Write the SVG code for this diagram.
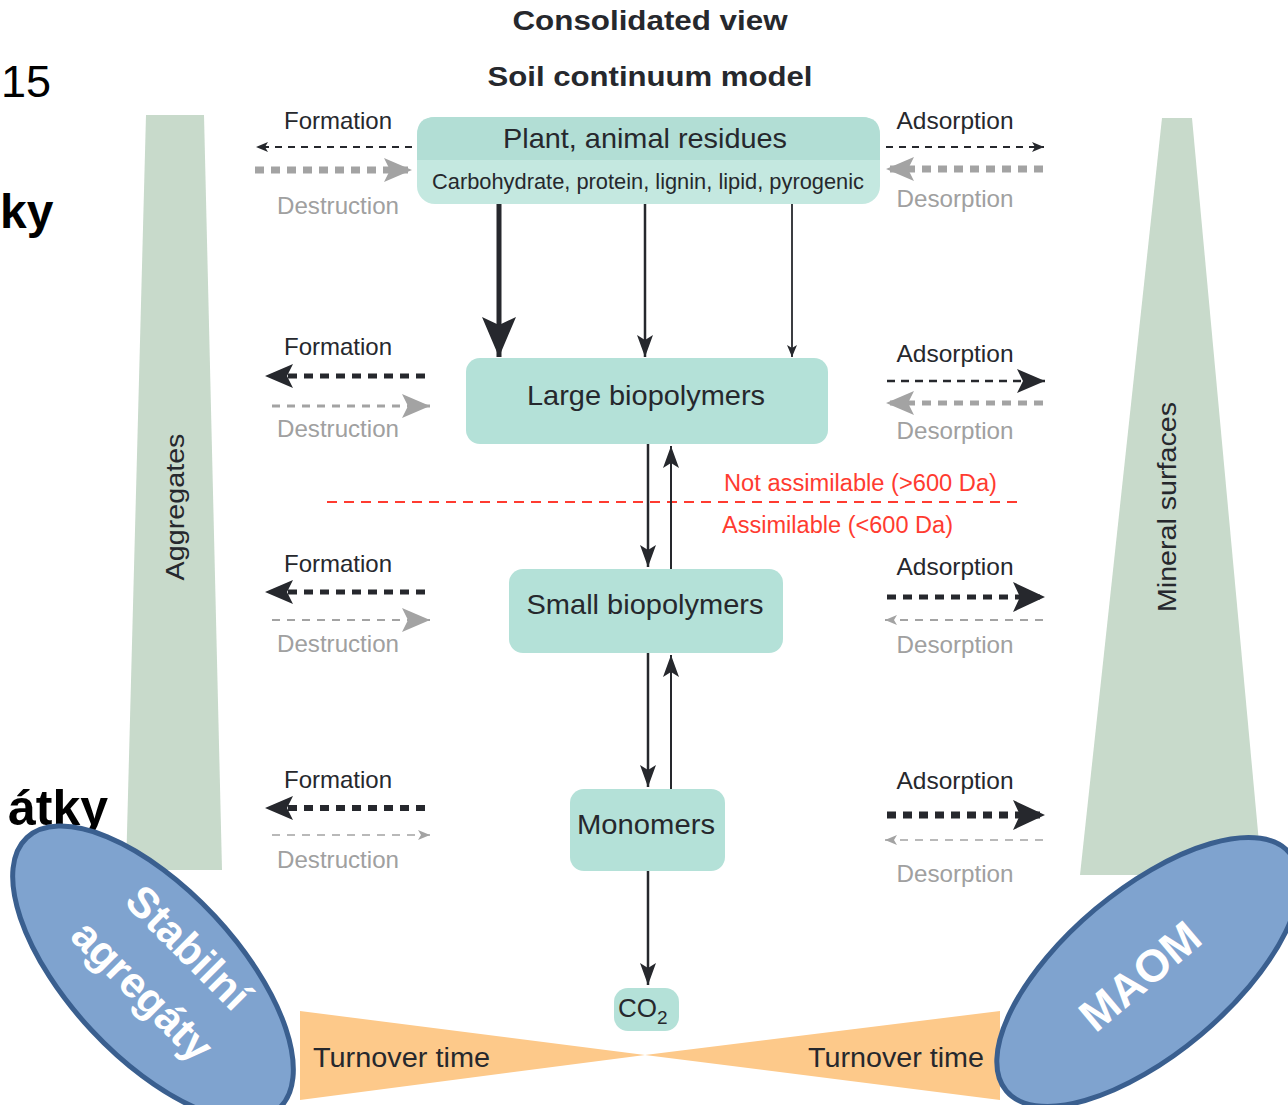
<svg xmlns="http://www.w3.org/2000/svg" width="1288" height="1105" viewBox="0 0 1288 1105">
<style>
  text { font-family: "Liberation Sans", Arial, sans-serif; }
  .dk { fill: #26282d; }
  .gr { fill: #a3a3a3; }
  .lbl { font-size: 24px; fill: #26282d; }
  .glbl { font-size: 24px; fill: #a0a0a0; }
  .box { fill: #b4e1d8; }
  .bt { font-size: 28px; fill: #26282d; text-anchor: middle; }
  .dl { stroke: #26282d; fill: none; }
  .gl { stroke: #a3a3a3; fill: none; }
  .red { font-size: 23px; fill: #ff3b30; }
  .white { fill: #ffffff; font-weight: bold; text-anchor: middle; }
</style>
<defs>
  <marker id="dS" viewBox="0 0 12 10" refX="12" refY="5" markerWidth="12" markerHeight="10" markerUnits="userSpaceOnUse" orient="auto"><path d="M0,0 L12,5 L0,10 L3,5 z" class="dk"/></marker>
  <marker id="dM" viewBox="0 0 22 16" refX="22" refY="8" markerWidth="22" markerHeight="16" markerUnits="userSpaceOnUse" orient="auto"><path d="M0,0 L22,8 L0,16 L5,8 z" class="dk"/></marker>
  <marker id="dL" viewBox="0 0 28 24" refX="28" refY="12" markerWidth="28" markerHeight="24" markerUnits="userSpaceOnUse" orient="auto"><path d="M0,0 L28,12 L0,24 L6,12 z" class="dk"/></marker>
  <marker id="dXL" viewBox="0 0 32 30" refX="32" refY="15" markerWidth="32" markerHeight="30" markerUnits="userSpaceOnUse" orient="auto"><path d="M0,0 L32,15 L0,30 L7,15 z" class="dk"/></marker>
  <marker id="dBig" viewBox="0 0 40 34" refX="40" refY="17" markerWidth="40" markerHeight="34" markerUnits="userSpaceOnUse" orient="auto"><path d="M0,0 L40,17 L0,34 L8,17 z" class="dk"/></marker>
  <marker id="gS" viewBox="0 0 12 10" refX="12" refY="5" markerWidth="12" markerHeight="10" markerUnits="userSpaceOnUse" orient="auto"><path d="M0,0 L12,5 L0,10 L3,5 z" class="gr"/></marker>
  <marker id="gL" viewBox="0 0 28 24" refX="28" refY="12" markerWidth="28" markerHeight="24" markerUnits="userSpaceOnUse" orient="auto"><path d="M0,0 L28,12 L0,24 L6,12 z" class="gr"/></marker>
</defs>

<!-- slide fragments -->
<text x="1" y="97" font-size="45">15</text>
<text x="0" y="228" font-size="48" font-weight="bold">ky</text>
<text x="108" y="825" font-size="50" font-weight="bold" text-anchor="end">átky</text>

<!-- titles -->
<text x="650" y="30" font-size="28" font-weight="bold" text-anchor="middle" fill="#26282d" textLength="275" lengthAdjust="spacingAndGlyphs">Consolidated view</text>
<text x="650" y="86" font-size="28" font-weight="bold" text-anchor="middle" fill="#26282d" textLength="325" lengthAdjust="spacingAndGlyphs">Soil continuum model</text>

<!-- side bars -->
<g id="aggregates">
  <polygon points="146,115 204,115 222,870 126,870" fill="#c8dacb"/>
  <text transform="translate(184,507) rotate(-90)" font-size="25" text-anchor="middle" fill="#26282d" textLength="147" lengthAdjust="spacingAndGlyphs">Aggregates</text>
</g>
<g id="mineral-surfaces">
  <polygon points="1162,118 1192,118 1262,875 1080,875" fill="#c8dacb"/>
  <text transform="translate(1176,507) rotate(-90)" font-size="25" text-anchor="middle" fill="#26282d" textLength="210" lengthAdjust="spacingAndGlyphs">Mineral surfaces</text>
</g>

<!-- turnover bowtie -->
<g id="turnover">
  <polygon points="300,1011 300,1100 645,1055" fill="#fdc98a"/>
  <polygon points="1000,1011 1000,1100 645,1055" fill="#fdc98a"/>
  <text x="313" y="1067" font-size="27" fill="#26282d" textLength="177" lengthAdjust="spacingAndGlyphs">Turnover time</text>
  <text x="808" y="1067" font-size="27" fill="#26282d" textLength="176" lengthAdjust="spacingAndGlyphs">Turnover time</text>
</g>

<!-- nodes -->
<g id="residues">
  <rect x="417" y="117" width="463" height="87" rx="18" fill="#c4e8e0"/>
  <path d="M417,160 V135 Q417,117 435,117 H862 Q880,117 880,135 V160 Z" fill="#b2ded5"/>
  <text x="645" y="148" class="bt" textLength="284" lengthAdjust="spacingAndGlyphs">Plant, animal residues</text>
  <text x="648" y="189" font-size="22" fill="#26282d" text-anchor="middle" textLength="432" lengthAdjust="spacingAndGlyphs">Carbohydrate, protein, lignin, lipid, pyrogenic</text>
</g>
<g id="large-biopolymers">
  <rect x="466" y="358" width="362" height="86" rx="14" class="box"/>
  <text x="646" y="405" class="bt" textLength="238" lengthAdjust="spacingAndGlyphs">Large biopolymers</text>
</g>
<g id="small-biopolymers">
  <rect x="509" y="569" width="274" height="84" rx="14" class="box"/>
  <text x="645" y="614" class="bt" textLength="237" lengthAdjust="spacingAndGlyphs">Small biopolymers</text>
</g>
<g id="monomers">
  <rect x="570" y="789" width="155" height="82" rx="14" class="box"/>
  <text x="646" y="834" class="bt" textLength="138" lengthAdjust="spacingAndGlyphs">Monomers</text>
</g>
<g id="co2">
  <rect x="614" y="988" width="65" height="43" rx="14" class="box"/>
  <text x="618" y="1017" font-size="26" fill="#26282d">CO<tspan font-size="19" dy="7">2</tspan></text>
</g>

<!-- assimilable threshold -->
<g id="threshold">
  <line x1="327" y1="502" x2="1022" y2="502" stroke="#ff3b30" stroke-width="2" stroke-dasharray="10 7"/>
  <text x="724" y="491" class="red" textLength="273" lengthAdjust="spacingAndGlyphs">Not assimilable (&gt;600 Da)</text>
  <text x="722" y="533" class="red" textLength="231" lengthAdjust="spacingAndGlyphs">Assimilable (&lt;600 Da)</text>
</g>

<!-- side labels -->
<g id="side-labels">
  <text x="338" y="129" class="lbl" text-anchor="middle" textLength="108" lengthAdjust="spacingAndGlyphs">Formation</text>
  <text x="338" y="214" class="glbl" text-anchor="middle" textLength="122" lengthAdjust="spacingAndGlyphs">Destruction</text>
  <text x="955" y="129" class="lbl" text-anchor="middle" textLength="117" lengthAdjust="spacingAndGlyphs">Adsorption</text>
  <text x="955" y="207" class="glbl" text-anchor="middle" textLength="117" lengthAdjust="spacingAndGlyphs">Desorption</text>

  <text x="338" y="355" class="lbl" text-anchor="middle" textLength="108" lengthAdjust="spacingAndGlyphs">Formation</text>
  <text x="338" y="437" class="glbl" text-anchor="middle" textLength="122" lengthAdjust="spacingAndGlyphs">Destruction</text>
  <text x="955" y="362" class="lbl" text-anchor="middle" textLength="117" lengthAdjust="spacingAndGlyphs">Adsorption</text>
  <text x="955" y="439" class="glbl" text-anchor="middle" textLength="117" lengthAdjust="spacingAndGlyphs">Desorption</text>

  <text x="338" y="572" class="lbl" text-anchor="middle" textLength="108" lengthAdjust="spacingAndGlyphs">Formation</text>
  <text x="338" y="652" class="glbl" text-anchor="middle" textLength="122" lengthAdjust="spacingAndGlyphs">Destruction</text>
  <text x="955" y="575" class="lbl" text-anchor="middle" textLength="117" lengthAdjust="spacingAndGlyphs">Adsorption</text>
  <text x="955" y="653" class="glbl" text-anchor="middle" textLength="117" lengthAdjust="spacingAndGlyphs">Desorption</text>

  <text x="338" y="788" class="lbl" text-anchor="middle" textLength="108" lengthAdjust="spacingAndGlyphs">Formation</text>
  <text x="338" y="868" class="glbl" text-anchor="middle" textLength="122" lengthAdjust="spacingAndGlyphs">Destruction</text>
  <text x="955" y="789" class="lbl" text-anchor="middle" textLength="117" lengthAdjust="spacingAndGlyphs">Adsorption</text>
  <text x="955" y="882" class="glbl" text-anchor="middle" textLength="117" lengthAdjust="spacingAndGlyphs">Desorption</text>
</g>

<!-- connectors -->
<g id="connectors">
  <!-- vertical flows -->
  <line x1="499" y1="204" x2="499" y2="357" class="dl" stroke-width="5" marker-end="url(#dBig)"/>
  <line x1="645" y1="204" x2="645" y2="357" class="dl" stroke-width="2.5" marker-end="url(#dM)"/>
  <line x1="792" y1="204" x2="792" y2="357" class="dl" stroke-width="1.8" marker-end="url(#dS)"/>
  <line x1="648" y1="444" x2="648" y2="567" class="dl" stroke-width="2.5" marker-end="url(#dM)"/>
  <line x1="671" y1="569" x2="671" y2="446" class="dl" stroke-width="2" marker-end="url(#dM)"/>
  <line x1="648" y1="653" x2="648" y2="787" class="dl" stroke-width="2.5" marker-end="url(#dM)"/>
  <line x1="671" y1="789" x2="671" y2="655" class="dl" stroke-width="2" marker-end="url(#dM)"/>
  <line x1="648" y1="871" x2="648" y2="985" class="dl" stroke-width="2.5" marker-end="url(#dM)"/>

  <!-- row 1 -->
  <line x1="412" y1="147" x2="256" y2="147" class="dl" stroke-width="2" stroke-dasharray="7 6" marker-end="url(#dS)"/>
  <line x1="255" y1="170" x2="412" y2="170" class="gl" stroke-width="7" stroke-dasharray="9 7" marker-end="url(#gL)"/>
  <line x1="886" y1="147" x2="1044" y2="147" class="dl" stroke-width="2" stroke-dasharray="7 6" marker-end="url(#dS)"/>
  <line x1="1043" y1="169" x2="886" y2="169" class="gl" stroke-width="7" stroke-dasharray="9 7" marker-end="url(#gL)"/>

  <!-- row 2 -->
  <line x1="425" y1="376" x2="265" y2="376" class="dl" stroke-width="5" stroke-dasharray="9 7" marker-end="url(#dL)"/>
  <line x1="272" y1="406" x2="430" y2="406" class="gl" stroke-width="3" stroke-dasharray="8 7" marker-end="url(#gL)"/>
  <line x1="887" y1="381" x2="1045" y2="381" class="dl" stroke-width="2.5" stroke-dasharray="8 6" marker-end="url(#dL)"/>
  <line x1="1043" y1="403" x2="886" y2="403" class="gl" stroke-width="5" stroke-dasharray="9 7" marker-end="url(#gL)"/>

  <!-- row 3 -->
  <line x1="425" y1="592" x2="265" y2="592" class="dl" stroke-width="5" stroke-dasharray="9 7" marker-end="url(#dL)"/>
  <line x1="272" y1="620" x2="430" y2="620" class="gl" stroke-width="2" stroke-dasharray="8 7" marker-end="url(#gL)"/>
  <line x1="887" y1="597" x2="1045" y2="597" class="dl" stroke-width="5" stroke-dasharray="9 7" marker-end="url(#dXL)"/>
  <line x1="1043" y1="620" x2="885" y2="620" class="gl" stroke-width="2" stroke-dasharray="8 7" marker-end="url(#gS)"/>

  <!-- row 4 -->
  <line x1="425" y1="808" x2="265" y2="808" class="dl" stroke-width="6" stroke-dasharray="9 7" marker-end="url(#dL)"/>
  <line x1="272" y1="835" x2="430" y2="835" class="gl" stroke-width="1.5" stroke-dasharray="8 7" marker-end="url(#gS)"/>
  <line x1="887" y1="815" x2="1045" y2="815" class="dl" stroke-width="7" stroke-dasharray="9 7" marker-end="url(#dXL)"/>
  <line x1="1043" y1="840" x2="885" y2="840" class="gl" stroke-width="1.5" stroke-dasharray="8 7" marker-end="url(#gS)"/>
</g>

<!-- callout ellipses -->
<g id="stabilni-agregaty">
  <ellipse cx="153" cy="973" rx="185" ry="84" transform="rotate(47 153 973)" fill="#7fa3cf" stroke="#3a5f8f" stroke-width="5"/>
  <text transform="translate(178,958) rotate(45)" class="white" font-size="43">Stabilní</text>
  <text transform="translate(132,1001) rotate(45)" class="white" font-size="43">agregáty</text>
</g>
<g id="maom">
  <ellipse cx="1148" cy="972" rx="185" ry="82" transform="rotate(-40 1148 972)" fill="#7fa3cf" stroke="#3a5f8f" stroke-width="5"/>
  <text transform="translate(1150,988) rotate(-40)" class="white" font-size="45">MAOM</text>
</g>
</svg>
